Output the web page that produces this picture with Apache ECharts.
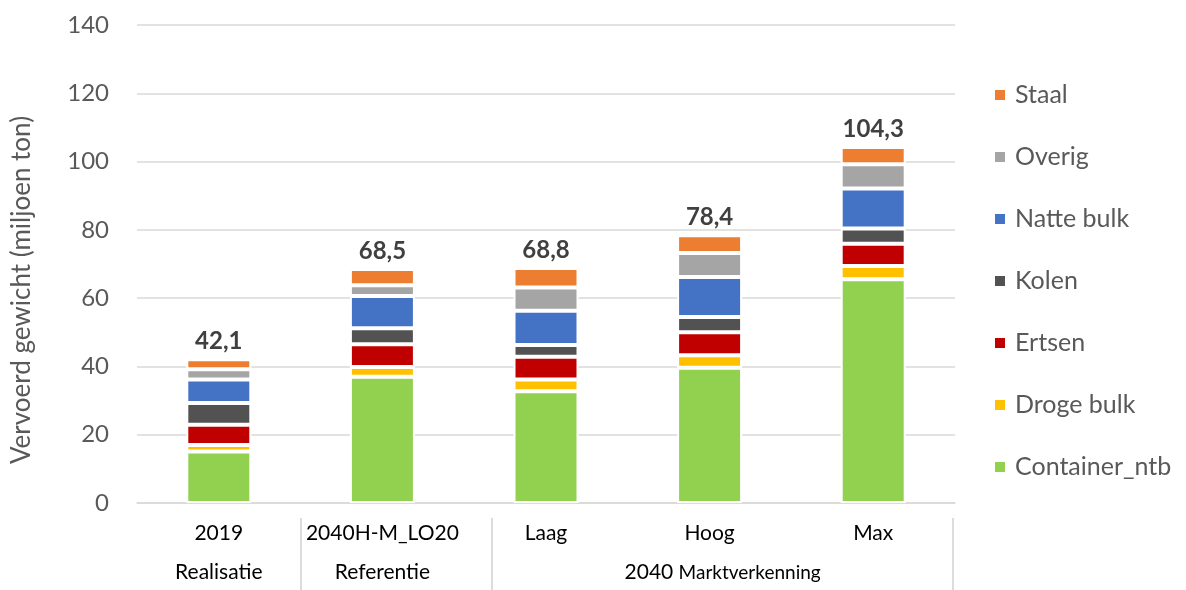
<!DOCTYPE html>
<html>
<head>
<meta charset="utf-8">
<script src="https://cdn.jsdelivr.net/npm/echarts@6/dist/echarts.min.js"></script>
<style>
  html, body { margin: 0; padding: 0; background: #fff; }
  #chart { width: 1186px; height: 590px; }
</style>
</head>
<body>
<div id="chart"></div>
<script>
// ---- Data ----
const categories = ['2019', '2040H-M_LO20', 'Laag', 'Hoog', 'Max'];
const groupLabels = ['Realisatie', 'Referentie', '', '2040 Marktverkenning', ''];
const containerNtb = [15.1, 37.0, 32.7, 39.6, 65.5];
const drogeBulk    = [1.9, 2.8, 3.5, 3.7, 3.9];
const ertsen       = [5.9, 6.7, 6.6, 6.7, 6.5];
const kolen        = [6.4, 4.7, 3.5, 4.5, 4.5];
const natteBulk    = [6.9, 9.4, 10.0, 11.7, 11.7];
const overig       = [3.0, 3.2, 6.8, 7.0, 7.1];
const staal        = [2.9, 4.7, 5.7, 5.2, 5.1];
const totals       = [42.1, 68.5, 68.8, 78.4, 104.3];
const yTicks       = [0, 20, 40, 60, 80, 100, 120, 140];

const FONT = 'Lato, "Open Sans", sans-serif';
const seriesDefs = [
  { name: 'Container_ntb', data: containerNtb, color: '#92D050' },
  { name: 'Droge bulk',    data: drogeBulk,    color: '#FFC000' },
  { name: 'Ertsen',        data: ertsen,       color: '#C00000' },
  { name: 'Kolen',         data: kolen,        color: '#525252' },
  { name: 'Natte bulk',    data: natteBulk,    color: '#4472C4' },
  { name: 'Overig',        data: overig,       color: '#A5A5A5' },
  { name: 'Staal',         data: staal,        color: '#ED7D31' }
];

const chart = echarts.init(document.getElementById('chart'), null, { renderer: 'canvas' });

const series = seriesDefs.map((s, i) => {
  const o = {
    name: s.name,
    type: 'bar',
    stack: 'total',
    barWidth: 65,
    data: s.data,
    itemStyle: { color: s.color, borderColor: '#ffffff', borderWidth: 2 },
    emphasis: { disabled: true },
    animation: false
  };
  if (i === seriesDefs.length - 1) {
    o.label = {
      show: true,
      position: 'top',
      distance: 6,
      fontFamily: FONT,
      fontSize: 24,
      fontWeight: 'bold',
      color: '#404040',
      formatter: p => totals[p.dataIndex].toFixed(1).replace('.', ',')
    };
  }
  return o;
});

const option = {
  backgroundColor: '#ffffff',
  animation: false,
  grid: { left: 137, right: 231, top: 25, bottom: 87, containLabel: false },
  legend: {
    orient: 'vertical',
    left: 988,
    top: 75,
    itemWidth: 12,
    itemHeight: 12,
    itemGap: 32,
    icon: 'rect',
    data: ['Staal', 'Overig', 'Natte bulk', 'Kolen', 'Ertsen', 'Droge bulk', 'Container_ntb'],
    textStyle: { fontFamily: FONT, fontSize: 25, color: '#595959', lineHeight: 30, padding: [0, 0, 0, 4] }
  },
  xAxis: [
    {
      type: 'category',
      data: categories,
      position: 'bottom',
      axisLine: { show: true, lineStyle: { color: '#d9d9d9', width: 1.5 } },
      axisTick: { show: false },
      axisLabel: { interval: 0, margin: 20, fontFamily: FONT, fontSize: 21, color: '#000000' }
    },
    {
      type: 'category',
      data: groupLabels,
      position: 'bottom',
      offset: 39,
      axisLine: { show: false },
      axisTick: { show: false },
      axisLabel: {
        interval: 0, margin: 20, fontFamily: FONT, fontSize: 21, color: '#000000',
        formatter: v => v.indexOf('Marktverkenning') >= 0 ? '{a|2040} {b|Marktverkenning}' : v,
        rich: {
          a: { fontFamily: FONT, fontSize: 21, color: '#000000', padding: [0, 0, 0, 26] },
          b: { fontFamily: FONT, fontSize: 19, color: '#000000' }
        }
      }
    }
  ],
  yAxis: {
    type: 'value',
    min: yTicks[0],
    max: yTicks[yTicks.length - 1],
    interval: 20,
    name: 'Vervoerd gewicht (miljoen ton)',
    nameLocation: 'middle',
    nameGap: 102,
    nameTextStyle: { fontFamily: FONT, fontSize: 26, color: '#595959', padding: [0, 52, 0, 0] },
    axisLine: { show: false },
    axisTick: { show: false },
    splitLine: { lineStyle: { color: '#d9d9d9', width: 1.5 } },
    axisLabel: { margin: 28, fontFamily: FONT, fontSize: 24, color: '#595959' }
  },
  series: series
};

chart.setOption(option);

// group separators below the category axis (decoration)
const sepX = [301, 492, 953];
chart.setOption({
  graphic: sepX.map(x => ({
    type: 'line',
    shape: { x1: x, y1: 518, x2: x, y2: 590 },
    style: { stroke: '#d0d0d0', lineWidth: 1.5 },
    silent: true
  }))
});
</script>
</body>
</html>
